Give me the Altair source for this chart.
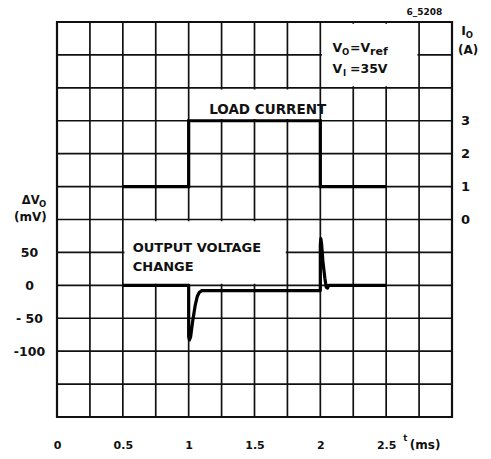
import altair as alt
import pandas as pd

# ---------------- data ----------------
t_grid = [0, 0.25, 0.5, 0.75, 1.0, 1.25, 1.5, 1.75, 2.0, 2.25, 2.5, 2.75, 3.0]
v_grid = [-200, -150, -100, -50, 0, 50, 100, 150, 200, 250, 300, 350, 400]

x_ticks = [0, 0.5, 1, 1.5, 2, 2.5]
v_ticks = [50, 0, -50, -100]
v_tick_labels = ["50", "0", "- 50", "-100"]
i_ticks = [0, 1, 2, 3]

# load current (A) vs time (ms)
load_t = [0.5, 1.0, 1.0, 2.0, 2.0, 2.5]
load_a = [1, 1, 3, 3, 1, 1]

# output voltage change (mV) vs time (ms)
dv_t = [0.5, 1.0, 1.0, 1.006, 1.015, 1.03, 1.05, 1.065, 1.08, 1.1,
        2.0, 2.0, 2.004, 2.01, 2.02, 2.035, 2.045, 2.055, 2.065, 2.5]
dv_mv = [0, 0, -78, -83, -78, -55, -30, -17, -11, -8,
         -8, 62, 71, 62, 35, 10, -3, -4, 0, 0]

# white label boxes (time range, mV range)
box_x = [0.5, 1.0, 2.0]
box_x2 = [1.75, 2.0, 2.75]
box_y = [0, 250, 300]
box_y2 = [100, 300, 400]

W, H = 395, 395
FONT = "DejaVu Sans"
INK = "#111111"

V_SCALE = alt.Scale(domain=[-200, 400], nice=False, zero=False)
X_SCALE = alt.Scale(domain=[0, 3], nice=False, zero=False)

x_axis = alt.Axis(values=x_ticks, format="~g", labelFontSize=11, labelPadding=22,
                  ticks=False, tickSize=0, domain=False, grid=False, title=None,
                  labelFlush=False, labelOverlap=False, labelFont=FONT,
                  labelFontWeight="bold", labelColor=INK, orient="bottom")

lab_expr = " : ".join(f"datum.value == {v} ? '{l}'" for v, l in zip(v_ticks, v_tick_labels)) + " : ''"
v_axis = alt.Axis(values=v_ticks, labelExpr=lab_expr, orient="left", labelAlign="center",
                  labelPadding=28, labelFontSize=12.5, ticks=False, tickSize=0, domain=False,
                  grid=False, title=None, labelOverlap=False, labelFont=FONT,
                  labelFontWeight="bold", labelColor=INK)

i_axis = alt.Axis(values=i_ticks, orient="right", labelAlign="center", labelPadding=13,
                  labelFontSize=13, ticks=False, tickSize=0, domain=False, grid=False,
                  title=None, labelOverlap=False, labelFont=FONT, labelFontWeight="bold",
                  labelColor=INK)


def X(field):
    return alt.X(field, scale=X_SCALE, axis=x_axis)


def YV(field):
    return alt.Y(field, scale=V_SCALE, axis=v_axis)


# grid
vgrid = alt.Chart(pd.DataFrame({"t": t_grid})).mark_rule(color=INK, strokeWidth=1.7).encode(
    x=X("t:Q")
)
hgrid = alt.Chart(pd.DataFrame({"v": v_grid})).mark_rule(color=INK, strokeWidth=1.7).encode(
    y=YV("v:Q")
)

# white masks behind labels (inset so edge grid lines stay visible)
boxes_df = pd.DataFrame({
    "x": [a + 0.012 for a in box_x], "x2": [b - 0.012 for b in box_x2],
    "y": [a + 2.5 for a in box_y], "y2": [b - 2.5 for b in box_y2],
})
boxes = alt.Chart(boxes_df).mark_rect(color="white").encode(
    x=X("x:Q"), x2="x2:Q", y=YV("y:Q"), y2="y2:Q",
)

dv_df = pd.DataFrame({"t": dv_t, "v": dv_mv, "i": list(range(len(dv_t)))})
dv_line = alt.Chart(dv_df).mark_line(color="black", strokeWidth=3.2, strokeJoin="round").encode(
    x=X("t:Q"), y=YV("v:Q"), order="i:Q",
)


def txt(text, x, y, size, align="left", baseline="middle"):
    df = pd.DataFrame({"x": [x], "y": [y], "s": [text]})
    return alt.Chart(df).mark_text(
        font=FONT, fontWeight="bold", fontSize=size, align=align, baseline=baseline,
        color=INK,
    ).encode(x=X("x:Q"), y=YV("y:Q"), text="s:N")


texts = [
    txt("LOAD  CURRENT", 1.6, 267, 13.5, "center"),
    txt("OUTPUT VOLTAGE", 0.575, 57, 13),
    txt("CHANGE", 0.575, 28, 13),
    # V_O = V_ref
    txt("V", 2.093, 361, 12.5),
    txt("O", 2.165, 355, 8.5),
    txt("=V", 2.225, 361, 12.5),
    txt("ref", 2.378, 355, 11),
    # V_I = 35V
    txt("V", 2.093, 328, 12.5),
    txt("I", 2.172, 322, 8.5),
    txt("=35V", 2.225, 328, 12.5),
    # left axis title
    txt("ΔV", -0.267, 128, 11.5),
    txt("O", -0.136, 123, 8.5),
    txt("(mV)", -0.078, 104, 12, "right"),
    # right axis title
    txt("I", 3.07, 387, 12.5),
    txt("O", 3.105, 381, 8.5),
    txt("(A)", 3.045, 357, 12),
    # figure code
    txt("6_5208", 2.79, 415, 9, "center"),
    # time unit
    txt("t", 2.63, -232, 8.5),
    txt("(ms)", 2.68, -243, 12),
]

group_v = alt.layer(vgrid, hgrid, boxes, dv_line, *texts)

load_df = pd.DataFrame({"t": load_t, "a": load_a, "i": list(range(len(load_t)))})
load_line = alt.Chart(load_df).mark_line(color="black", strokeWidth=3.2, strokeJoin="miter").encode(
    x=X("t:Q"),
    y=alt.Y("a:Q", scale=alt.Scale(domain=[-6, 6], nice=False, zero=False), axis=i_axis),
    order="i:Q",
)
group_i = alt.layer(load_line)

chart = alt.layer(group_v, group_i).resolve_scale(y="independent").properties(
    width=W, height=H,
    autosize=alt.AutoSizeParams(type="none"),
    padding={"left": 49, "top": 14, "right": 30, "bottom": 34},
    background="white",
).configure_view(stroke=INK, strokeWidth=2.2)

chart.save("out.html", embed_options={"renderer": "svg", "actions": False})
